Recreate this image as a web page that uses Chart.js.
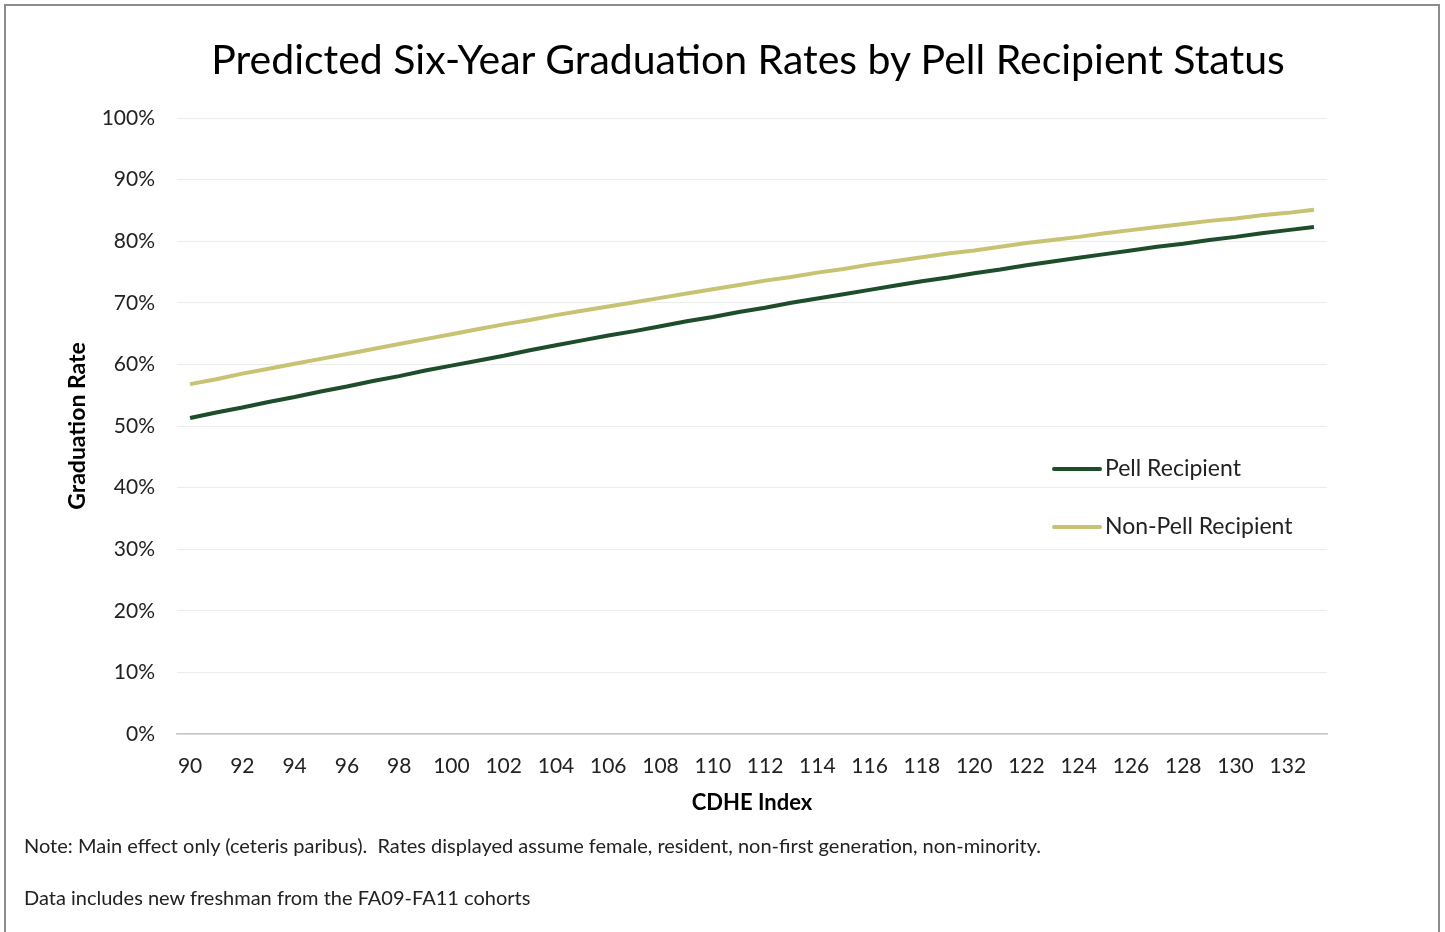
<!DOCTYPE html>
<html>
<head>
<meta charset="utf-8">
<script src="https://cdn.jsdelivr.net/npm/chart.js@4.4.1/dist/chart.umd.min.js"></script>
<style>
  body { margin: 0; background: #fff; font-family: Lato, sans-serif; }
  #marco { position: absolute; left: 4px; top: 4px; width: 1432px; height: 940px; border: 2px solid #8c8c8c; }
  #titulo { position: absolute; left: 0; width: 1496px; top: 34px; text-align: center; font-size: 41px; color: #000; white-space: nowrap; }
  .nota { position: absolute; left: 24px; font-size: 20px; color: #222; white-space: nowrap; }
  #lienzo { position: absolute; left: 0; top: 0; }
</style>
</head>
<body>
<div id="marco"></div>
<canvas id="lienzo" width="1445" height="932"></canvas>
<div id="titulo">Predicted Six-Year Graduation Rates by Pell Recipient Status</div>
<div class="nota" style="top:833px">Note: Main effect only (ceteris paribus).&nbsp; Rates displayed assume female, resident, non-first generation, non-minority.</div>
<div class="nota" style="top:885px">Data includes new freshman from the FA09-FA11 cohorts</div>
<script>
// indice CDHE (eje x)
const indices = [90,91,92,93,94,95,96,97,98,99,100,101,102,103,104,105,106,107,108,109,110,111,
  112,113,114,115,116,117,118,119,120,121,122,123,124,125,126,127,128,129,130,131,132,133];

// tasas estimadas en %
const pell = [51.3,52.2,53.0,53.9,54.7,55.6,56.4,57.3,58.1,59.0,59.8,60.6,61.4,62.3,63.1,63.9,64.7,65.4,
  66.2,67.0,67.7,68.5,69.2,70.0,70.7,71.4,72.1,72.8,73.5,74.1,74.8,75.4,76.1,76.7,77.3,77.9,78.5,79.1,
  79.6,80.2,80.7,81.3,81.8,82.3];
const noPell = [56.8,57.6,58.5,59.3,60.1,60.9,61.7,62.5,63.3,64.1,64.9,65.7,66.5,67.2,68.0,68.7,69.4,70.1,
  70.8,71.5,72.2,72.9,73.6,74.2,74.9,75.5,76.2,76.8,77.4,78.0,78.5,79.1,79.7,80.2,80.7,81.3,81.8,82.3,
  82.8,83.3,83.7,84.2,84.6,85.1];

const etiquetaY = "Graduation Rate";
const etiquetaX = "CDHE Index";

//leyenda dentro del area de la grafica
const leyenda = {
  id: "leyenda",
  afterDraw(chart) {
    const ctx = chart.ctx;
    const filas = [469, 527];
    chart.data.datasets.forEach((ds, i) => {
      ctx.save();
      ctx.strokeStyle = ds.borderColor;
      ctx.lineWidth = 4;
      ctx.lineCap = "round";
      ctx.beginPath();
      ctx.moveTo(1054, filas[i]);
      ctx.lineTo(1100, filas[i]);
      ctx.stroke();
      ctx.fillStyle = "#222";
      ctx.font = "23px Lato";
      ctx.textBaseline = "middle";
      ctx.fillText(ds.label, 1105, filas[i]);
      ctx.restore();
    });
  }
};

const grafica = document.getElementById("lienzo").getContext("2d");
new Chart(grafica, {
  type: "line",
  data: {
    labels: indices,
    datasets: [
      { label: "Pell Recipient", data: pell, borderColor: "#1E4D2B", borderWidth: 4, pointRadius: 0, tension: 0 },
      { label: "Non-Pell Recipient", data: noPell, borderColor: "#C8C372", borderWidth: 4, pointRadius: 0, tension: 0 }
    ]
  },
  options: {
    responsive: false,
    animation: false,
    layout: { padding: { top: 118, right: 118, bottom: 108, left: 0 } },
    plugins: { legend: { display: false }, tooltip: { enabled: false } },
    scales: {
      x: {
        offset: true,
        grid: { display: false, drawTicks: false },
        border: { display: true, color: "#c6c6c6", width: 1.5 },
        ticks: {
          autoSkip: false, maxRotation: 0, padding: 20, color: "#222",
          font: { family: "Lato", size: 21 },
          callback: function (v, i) { return i % 2 === 0 ? this.getLabelForValue(v) : ""; }
        },
        title: { display: true, text: etiquetaX, color: "#000", font: { family: "Lato", size: 22, weight: "bold" }, padding: { top: 0, bottom: 8 } },
        afterFit(s) { s.height = 90; }
      },
      y: {
        min: 0, max: 100,
        grid: { color: "#ececec", drawTicks: false },
        border: { display: false },
        ticks: {
          stepSize: 10, padding: 22, color: "#222",
          font: { family: "Lato", size: 21 },
          callback: (v) => v + "%"
        },
        title: { display: true, text: etiquetaY, color: "#000", font: { family: "Lato", size: 23, weight: "bold" }, padding: { top: 64, bottom: 0 } },
        afterFit(s) { s.width = 177; }
      }
    }
  },
  plugins: [leyenda]
});
</script>
</body>
</html>
